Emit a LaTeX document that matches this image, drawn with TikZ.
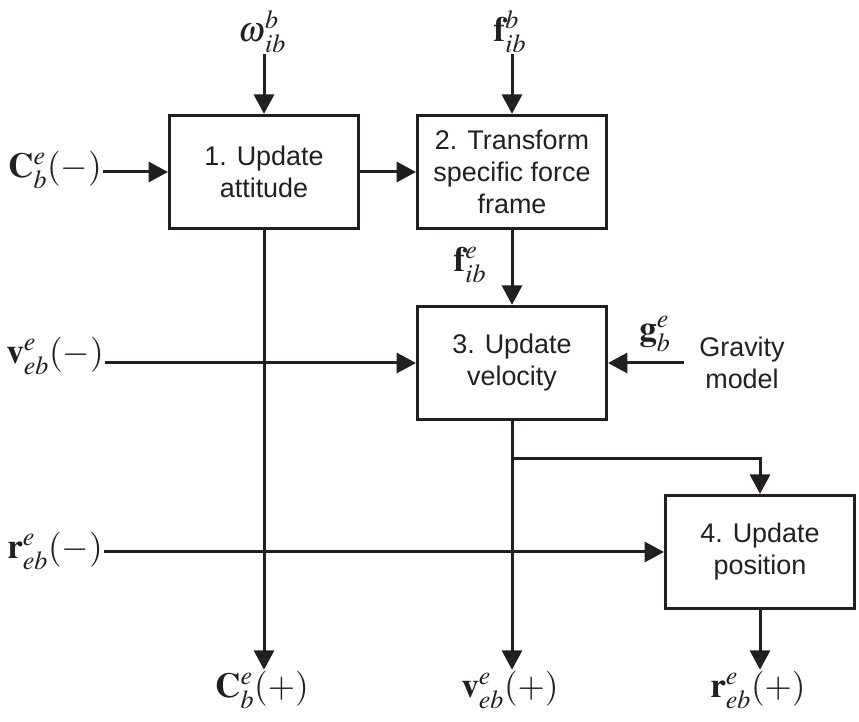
\documentclass[tikz,border=0pt]{standalone}
\usepackage{amsmath}
\usepackage{mathptmx}
\usepackage{fontspec}
\setsansfont{Liberation Sans}
\usetikzlibrary{arrows.meta}
\definecolor{Ink}{HTML}{231F20}
\newcommand{\boxfont}{\sffamily\fontsize{23}{27.3}\selectfont}
\newcommand{\sigfont}{\fontsize{30}{36}\selectfont}
\tikzset{
  updatebox/.style={draw=Ink, line width=0.09cm, minimum width=5.67cm,
                    minimum height=3.4cm, align=center, font=\boxfont, text=Ink},
  sig/.style={font=\sigfont, text=Ink, inner sep=1pt},
  flow/.style={draw=Ink, line width=0.09cm,
               -{Triangle[length=0.58cm, width=0.6cm]}}
}

\begin{document}
\begin{tikzpicture}[x=0.03cm, y=0.03cm]
  \useasboundingbox (0,0) rectangle (859,722);
  % Processing steps
  \node[updatebox] (b1) at (264,550) {1. Update\\attitude};
  \node[updatebox] (b2) at (512,550) {2. Transform\\specific force\\frame};
  \node[updatebox] (b3) at (512,359) {3. Update\\velocity};
  \node[updatebox] (b4) at (760,170) {4. Update\\position};
  % Inputs
  \node[sig] (om)  at (262,690) {$\boldsymbol{\omega}_{ib}^{b}$};
  \node[sig] (fb)  at (510,690) {$\mathbf{f}_{ib}^{b}$};
  \node[sig] (cm)  at (55,552)  {$\mathbf{C}_{b}^{e}(-)$};
  \node[sig] (vm)  at (55,366)  {$\mathbf{v}_{eb}^{e}(-)$};
  \node[sig] (rm)  at (55,171)  {$\mathbf{r}_{eb}^{e}(-)$};
  \node[sig] (fe)  at (470,457) {$\mathbf{f}_{ib}^{e}$};
  \node[sig] (gm)  at (655,388) {$\mathbf{g}_{b}^{e}$};
  \node[font=\boxfont, text=Ink, align=center, inner sep=0pt] (grav) at (742,359)
    {Gravity\\model};
  % Outputs
  \node[sig] (cp)  at (262,32)  {$\mathbf{C}_{b}^{e}(+)$};
  \node[sig] (vp)  at (510,32)  {$\mathbf{v}_{eb}^{e}(+)$};
  \node[sig] (rp)  at (758,32)  {$\mathbf{r}_{eb}^{e}(+)$};
  \coordinate (br) at (512,263);
  % Flows
  \draw[flow] (b1.north |- om.south) -- (b1.north);
  \draw[flow] (b2.north |- fb.south) -- (b2.north);
  \draw[flow] (cm.east |- b1.west) -- (b1.west);
  \draw[flow] (b1.east) -- (b2.west);
  \draw[flow] (b2.south) -- (b3.north);
  \draw[flow] (vm.east |- b3.west) -- (b3.west);
  \draw[flow] ([xshift=-0.45cm]grav.west |- b3.east) -- (b3.east);
  \draw[flow] (rm.east |- b4.west) -- (b4.west);
  \draw[flow] (b1.south) -- (b1.south |- cp.north);
  \draw[flow] (b3.south) -- (b3.south |- vp.north);
  \draw[flow] (br) -| (b4.north);
  \draw[flow] (b4.south) -- (b4.south |- rp.north);
\end{tikzpicture}
\end{document}
